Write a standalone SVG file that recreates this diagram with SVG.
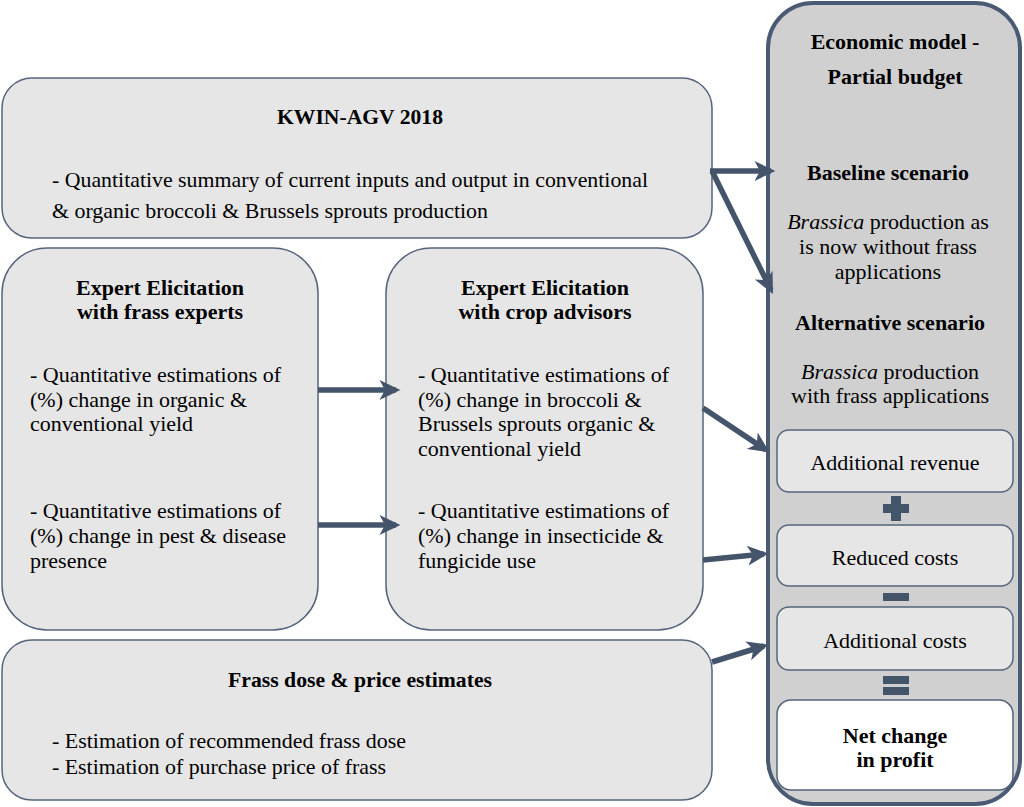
<svg xmlns="http://www.w3.org/2000/svg" width="1024" height="807" viewBox="0 0 1024 807">
<style>
.box{fill:#e6e6e6;stroke:#56657c;stroke-width:1.5}
.t{font-family:"Liberation Serif",serif;font-size:22px;fill:#000}
.b{font-weight:bold}
.c{text-anchor:middle}
.conn{stroke:#44546a;stroke-width:5.5;fill:none}
</style>
<defs>
<marker id="ah" markerWidth="5" markerHeight="5" refX="3" refY="1.8" orient="auto" markerUnits="strokeWidth" overflow="visible">
<path d="M0,0 L3.8,1.8 L0,3.6 L1,1.8 Z" fill="#44546a"/>
</marker>
</defs>
<rect width="1024" height="807" fill="#fff"/>
<g id="econ">
<rect x="768" y="3" width="252" height="801" rx="45" fill="#d0d0d0" stroke="#4a5a73" stroke-width="4"/>
<text class="t b c" x="895" y="49">Economic model -</text>
<text class="t b c" x="895" y="84">Partial budget</text>
<text class="t b c" x="888" y="180">Baseline scenario</text>
<text class="t c" x="888" y="229"><tspan font-style="italic">Brassica</tspan> production as</text>
<text class="t c" x="888" y="254">is now without frass</text>
<text class="t c" x="888" y="279">applications</text>
<text class="t b c" x="890" y="330">Alternative scenario</text>
<text class="t c" x="890" y="379"><tspan font-style="italic">Brassica</tspan> production</text>
<text class="t c" x="890" y="403">with frass applications</text>
</g>
<g id="revenue">
<rect class="box" x="777" y="430" width="236" height="62" rx="12"/>
<text class="t c" x="895" y="470">Additional revenue</text>
</g>
<g id="plus"><rect x="883" y="504" width="26" height="9" fill="#44546a"/><rect x="891" y="496" width="10" height="25" fill="#44546a"/></g>
<g id="reduced">
<rect class="box" x="777" y="525" width="236" height="61" rx="12"/>
<text class="t c" x="895" y="565">Reduced costs</text>
</g>
<g id="minus"><rect x="883" y="593" width="26" height="8" fill="#44546a"/></g>
<g id="addcosts">
<rect class="box" x="777" y="607" width="236" height="63" rx="12"/>
<text class="t c" x="895" y="648">Additional costs</text>
</g>
<g id="equals"><rect x="883" y="676" width="26" height="8" fill="#44546a"/><rect x="883" y="687" width="26" height="8" fill="#44546a"/></g>
<g id="net">
<rect x="777" y="700" width="236" height="90" rx="14" fill="#fff" stroke="#56657c" stroke-width="1.5"/>
<text class="t b c" x="895" y="743">Net change</text>
<text class="t b c" x="895" y="767">in profit</text>
</g>
<g id="kwin">
<rect class="box" x="2" y="78" width="710" height="160" rx="30"/>
<text class="t b c" x="360" y="124" textLength="166" lengthAdjust="spacingAndGlyphs">KWIN-AGV 2018</text>
<text class="t" x="52" y="187" textLength="596" lengthAdjust="spacingAndGlyphs">- Quantitative summary of current inputs and output in conventional</text>
<text class="t" x="52" y="218" textLength="436" lengthAdjust="spacingAndGlyphs">&amp; organic broccoli &amp; Brussels sprouts production</text>
</g>
<g id="frassexp">
<rect class="box" x="2" y="248" width="316" height="382" rx="45"/>
<text class="t b c" x="160" y="295">Expert Elicitation</text>
<text class="t b c" x="160" y="319">with frass experts</text>
<text class="t" x="30" y="382">- Quantitative estimations of</text>
<text class="t" x="30" y="407">(%) change in organic &amp;</text>
<text class="t" x="30" y="431">conventional yield</text>
<text class="t" x="30" y="518">- Quantitative estimations of</text>
<text class="t" x="30" y="543">(%) change in pest &amp; disease</text>
<text class="t" x="30" y="568">presence</text>
</g>
<g id="cropadv">
<rect class="box" x="386" y="248" width="317" height="382" rx="45"/>
<text class="t b c" x="545" y="295">Expert Elicitation</text>
<text class="t b c" x="545" y="319">with crop advisors</text>
<text class="t" x="418" y="382">- Quantitative estimations of</text>
<text class="t" x="418" y="407">(%) change in broccoli &amp;</text>
<text class="t" x="418" y="431">Brussels sprouts organic &amp;</text>
<text class="t" x="418" y="456">conventional yield</text>
<text class="t" x="418" y="518">- Quantitative estimations of</text>
<text class="t" x="418" y="543">(%) change in insecticide &amp;</text>
<text class="t" x="418" y="568">fungicide use</text>
</g>
<g id="frassdose">
<rect class="box" x="2" y="640" width="710" height="160" rx="30"/>
<text class="t b c" x="360" y="687" textLength="264" lengthAdjust="spacingAndGlyphs">Frass dose &amp; price estimates</text>
<text class="t" x="52" y="748" textLength="354" lengthAdjust="spacingAndGlyphs">- Estimation of recommended frass dose</text>
<text class="t" x="52" y="774" textLength="334" lengthAdjust="spacingAndGlyphs">- Estimation of purchase price of frass</text>
</g>
<g id="connectors">
<line class="conn" x1="710" y1="171" x2="771" y2="171" marker-end="url(#ah)"/>
<line class="conn" x1="712" y1="171" x2="771" y2="290" marker-end="url(#ah)"/>
<line class="conn" x1="318" y1="390" x2="396" y2="390" marker-end="url(#ah)"/>
<line class="conn" x1="318" y1="525" x2="396" y2="525" marker-end="url(#ah)"/>
<line class="conn" x1="703" y1="408" x2="766" y2="450" marker-end="url(#ah)"/>
<line class="conn" x1="703" y1="560" x2="764" y2="554" marker-end="url(#ah)"/>
<line class="conn" x1="712" y1="662" x2="764" y2="646" marker-end="url(#ah)"/>
</g>
</svg>
